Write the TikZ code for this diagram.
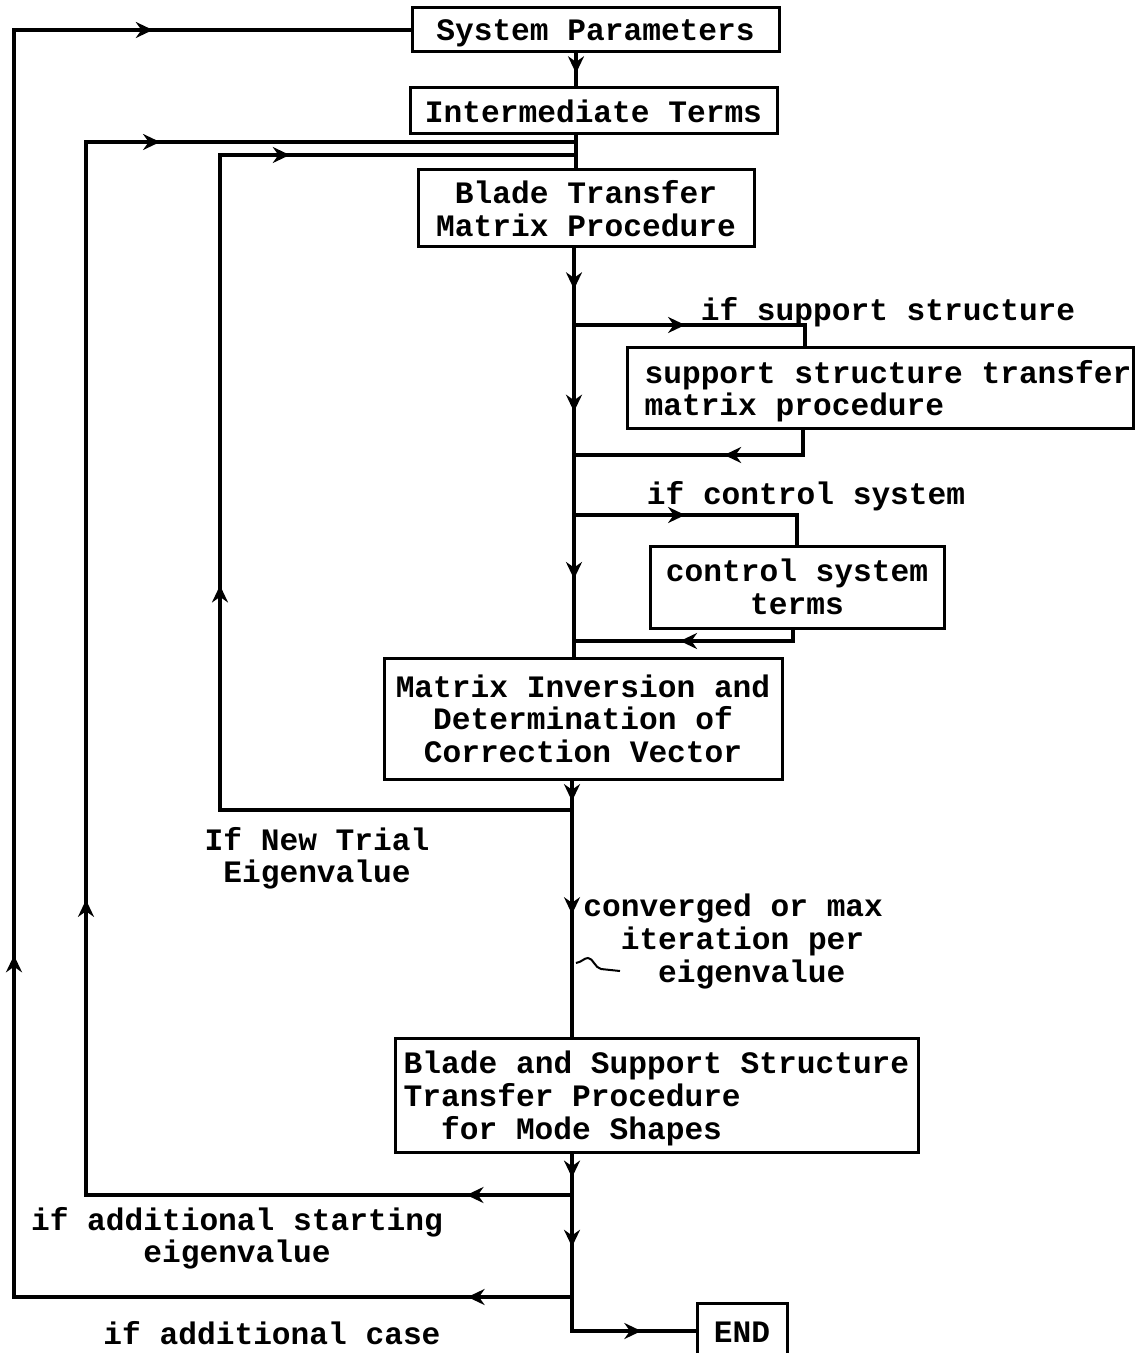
\documentclass[tikz,border=0pt]{standalone}
\usepackage{fontspec}
\setmainfont{Liberation Mono}
\usetikzlibrary{arrows.meta,decorations.markings}
\newcommand{\tfont}{\fontsize{15.6}{16.4}\selectfont\bfseries}
\tikzset{
  box/.style={draw, line width=1.5pt, inner xsep=4pt, inner ysep=0pt, font=\tfont, align=center, text depth=0pt},
  lbl/.style={inner sep=0pt, font=\tfont, text depth=0pt},
  flow/.style={line width=1.6pt},
  arrat/.style={postaction={decorate,decoration={markings,
      mark=at position #1 with {\arrow{Stealth[length=8.5pt,width=8pt,inset=2.8pt]}}}}},
}
\begin{document}
\begin{tikzpicture}[x=0.5pt,y=-0.5pt]
\useasboundingbox (0,0) rectangle (1141,1353);
% boxes
\node[box, minimum width=183.5pt, minimum height=22pt] (sp) at (595.5,30) {System Parameters};
\node[box, minimum width=183.5pt, minimum height=23pt] (it) at (593.5,111) {Intermediate Terms};
\node[box, minimum width=168pt, minimum height=38.5pt] (bt) at (586,208.5) {Blade Transfer\\Matrix Procedure};
\node[box, minimum width=252.5pt, minimum height=40pt, inner xsep=1pt, align=left] (ss) at (880.5,388) {\hspace*{7.5pt}support structure transfer\\\hspace*{7.5pt}matrix procedure};
\node[box, minimum width=147pt, minimum height=41pt] (cs) at (797,587) {control system\\terms};
\node[box, minimum width=199pt, minimum height=60.5pt] (mi) at (583,718.5) {Matrix Inversion and\\Determination of\\Correction Vector};
\node[box, minimum width=261.5pt, minimum height=57pt, align=left] (bs) at (656.5,1095) {Blade and Support Structure\\Transfer Procedure\\\hspace*{18.7pt}for Mode Shapes};
\node[box, minimum width=45pt, minimum height=29pt] (end) at (742,1332) {END};
% column coordinates
\coordinate (xa) at (576,0);
\coordinate (xm) at (574,0);
\coordinate (xl) at (572,0);
\coordinate (j1) at (576,142);
\coordinate (j2) at (576,155);
\coordinate (b1s) at (574,325);
\coordinate (b1e) at (805,325);
\coordinate (r1c) at (803,455);
\coordinate (r1e) at (574,455);
\coordinate (b2s) at (574,515);
\coordinate (b2e) at (797,515);
\coordinate (r2c) at (793,641);
\coordinate (r2e) at (574,641);
\coordinate (j3) at (572,810);
\coordinate (l3) at (220,810);
\coordinate (l3t) at (220,155);
\coordinate (j4) at (572,1195);
\coordinate (l4) at (86,1195);
\coordinate (l4t) at (86,142);
\coordinate (j5) at (572,1297);
\coordinate (l5) at (14,1297);
\coordinate (l5t) at (14,30);
\coordinate (e1) at (572,1331);
% connectors
\draw[flow, arrat=0.6] (sp.south -| xa) -- (it.north -| xa);
\draw[flow] (it.south -| xa) -- (bt.north -| xa);
\draw[flow, arrat=0.1, arrat=0.4, arrat=0.81] (bt.south -| xm) -- (mi.north -| xm);
\draw[flow, arrat=0.44] (b1s) -- (b1e) -- (ss.north -| b1e);
\draw[flow, arrat=0.41] (ss.south -| r1c) -- (r1c) -- (r1e);
\draw[flow, arrat=0.44] (b2s) -- (b2e) -- (cs.north -| b2e);
\draw[flow, arrat=0.54] (cs.south -| r2c) -- (r2c) -- (r2e);
\draw[flow, arrat=0.7] (mi.south -| xl) -- (j3);
\draw[flow, arrat=0.46] (j3) -- (bs.north -| xl);
\draw[flow, arrat=0.423, arrat=0.79] (j3) -- (l3) -- (l3t) -- (j2);
\draw[flow, arrat=0.08, arrat=0.31, arrat=0.82] (bs.south -| xl) -- (e1) -- (end.west |- e1);
\draw[flow, arrat=0.052, arrat=0.385, arrat=0.795] (j4) -- (l4) -- (l4t) -- (j1);
\draw[flow, arrat=0.047, arrat=0.405, arrat=0.884] (j5) -- (l5) -- (l5t) -- (sp.west |- l5t);
% labels
\node[lbl] (lss) at (888,309) {if support structure};
\node[lbl] (lcs) at (806,493) {if control system};
\node[lbl, align=center] (lnt) at (317,855) {If New Trial\\Eigenvalue};
\node[lbl, align=left, anchor=west] (lcv) at (583,938) {converged or max\\\hspace*{18.7pt}iteration per\\\hspace*{37.4pt}eigenvalue};
\node[lbl, align=center] (las) at (237,1235) {if additional starting\\eigenvalue};
\node[lbl] (lac) at (272,1333) {if additional case};
% small hand mark
\draw[line width=1pt] (620,971) -- (601,969) .. controls (595,968) and (593,958) .. (588,958) .. controls (584,958) and (582,962) .. (576,963);
\end{tikzpicture}
\end{document}
